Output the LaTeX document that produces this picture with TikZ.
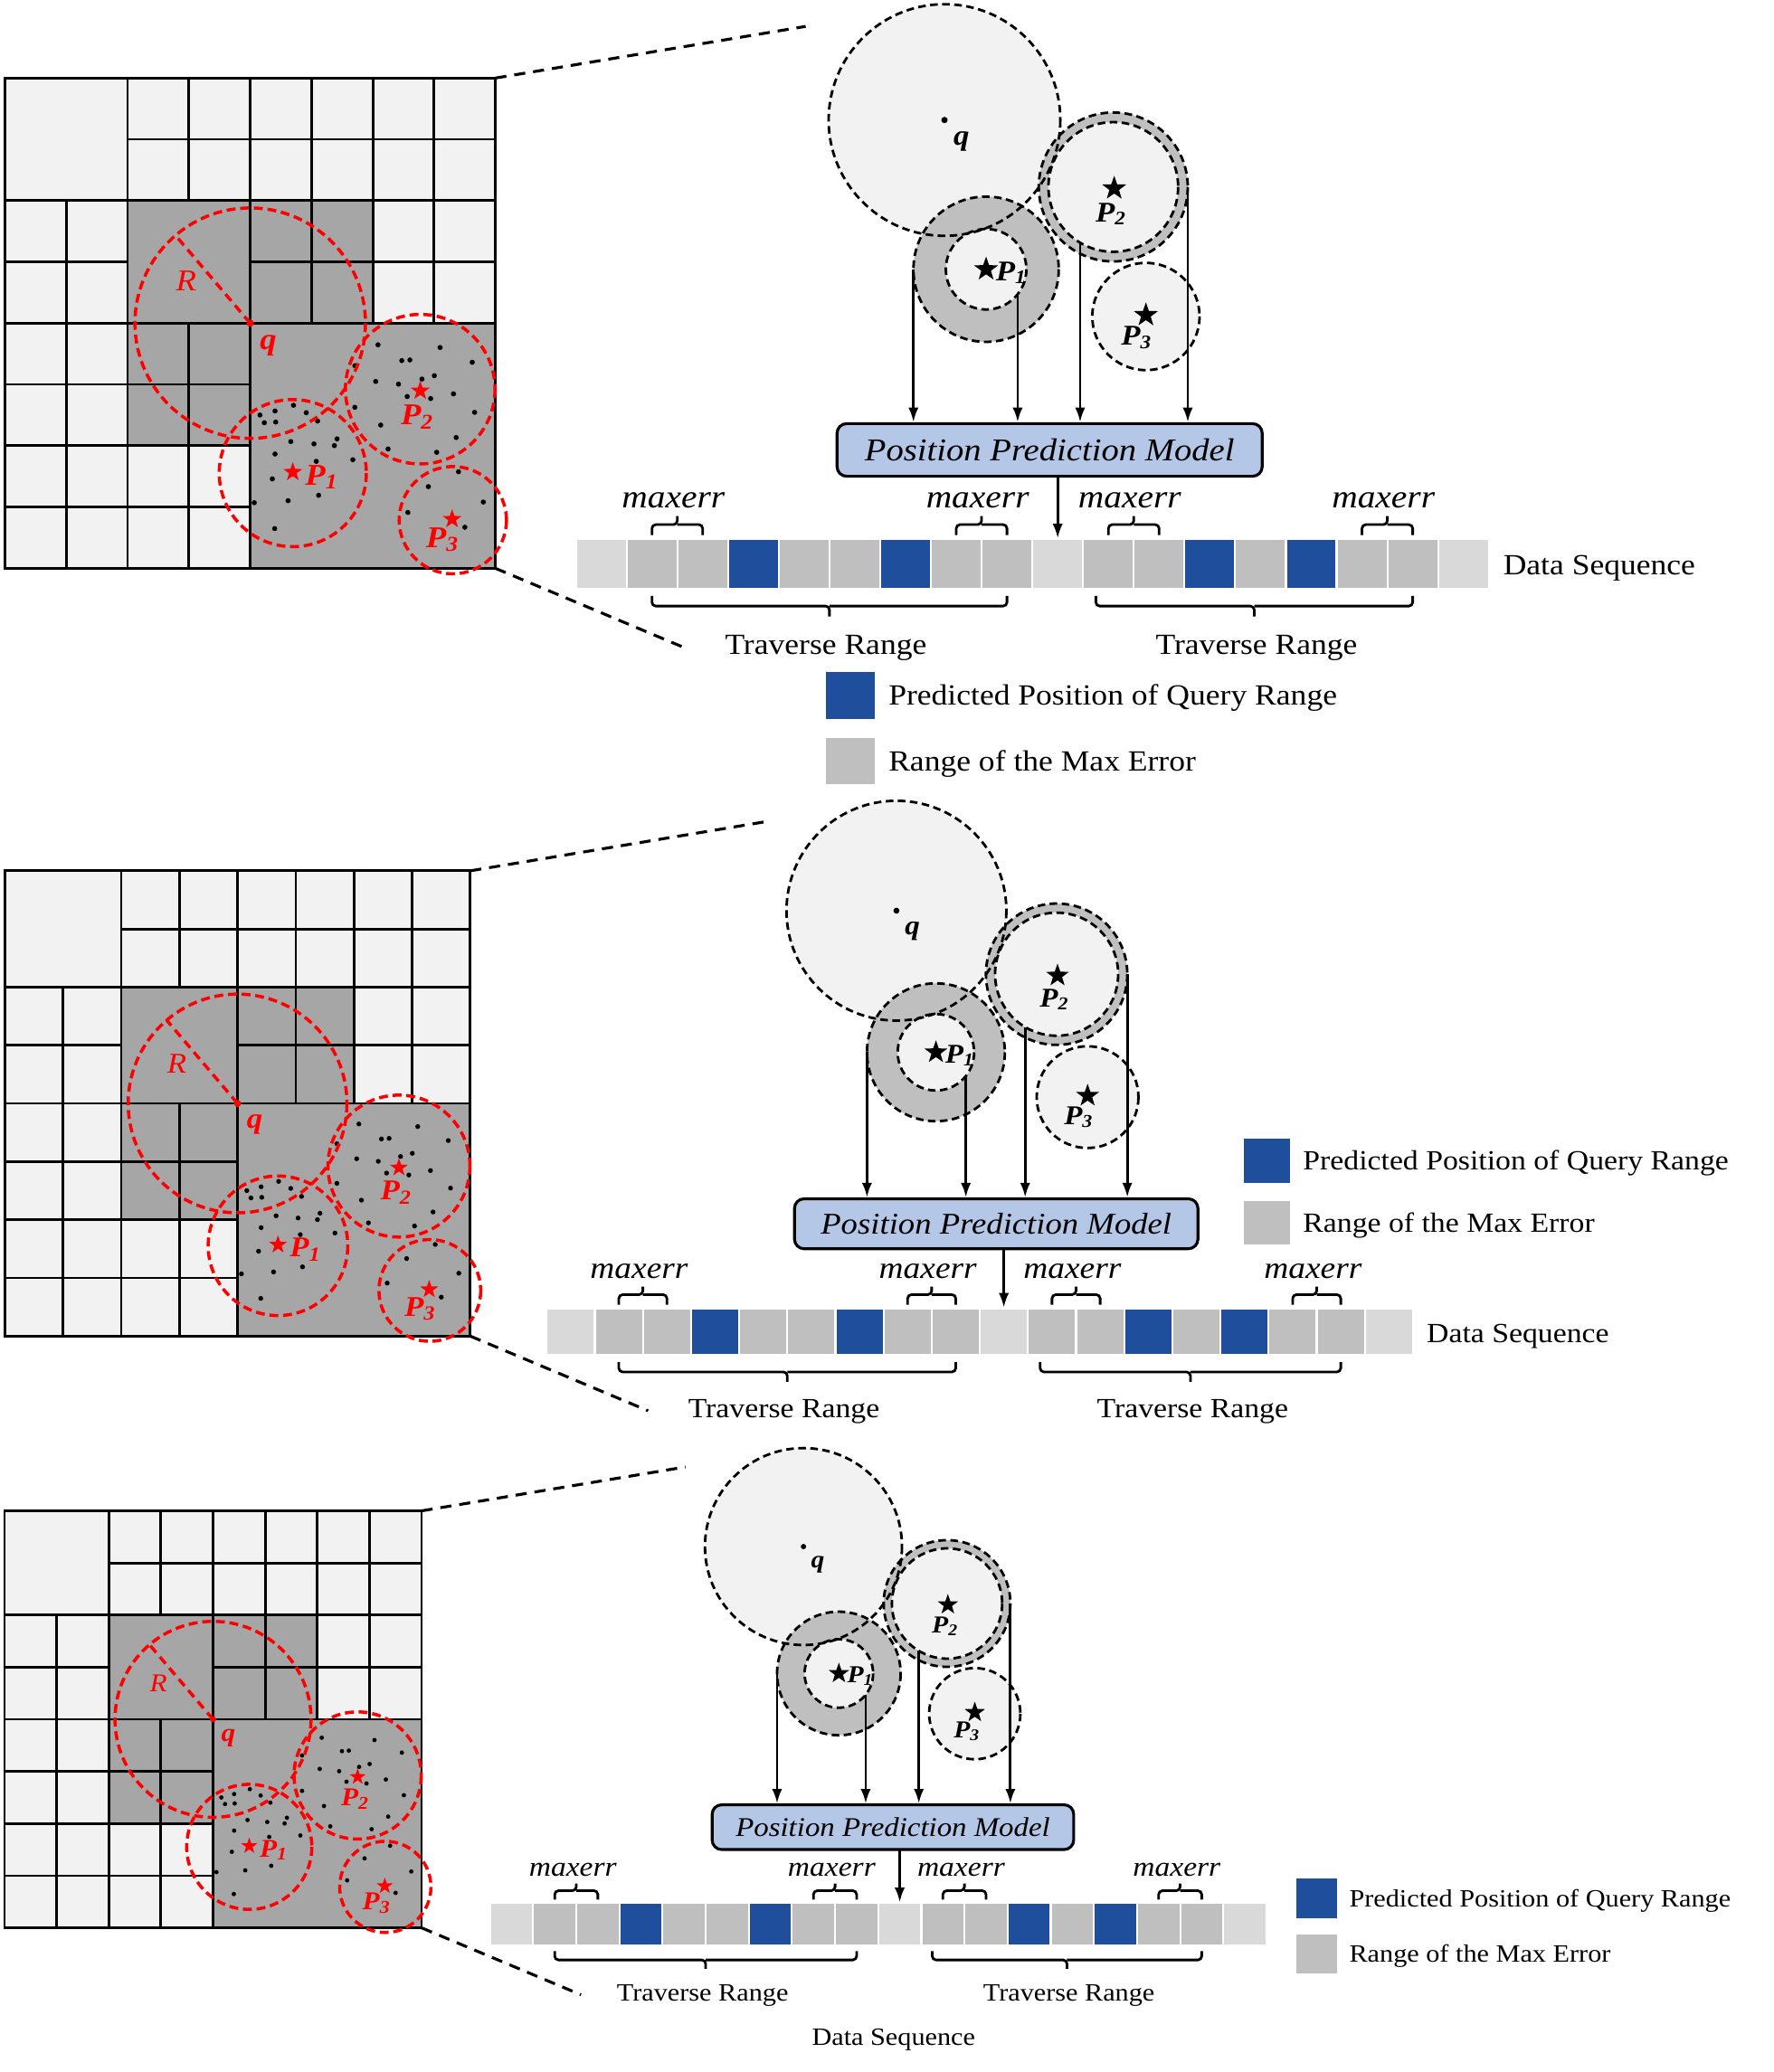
\documentclass[tikz,border=0pt]{standalone}
\usepackage{fontspec}
\setmainfont{Liberation Serif}[FakeStretch=1.1]
\usetikzlibrary{shapes.geometric,arrows.meta}
\definecolor{gridlt}{HTML}{F2F2F2}
\definecolor{griddk}{HTML}{A6A6A6}
\definecolor{seqlt}{HTML}{D9D9D9}
\definecolor{seqgr}{HTML}{BFBFBF}
\definecolor{seqbl}{HTML}{1F4E9C}
\definecolor{boxblue}{HTML}{B4C7E7}
\definecolor{ringgr}{HTML}{BFBFBF}
\tikzset{
  gline/.style={line width=0.8pt, draw=black},
  redc/.style={draw=red, line width=1pt, dash pattern=on 2.8pt off 1.5pt},
  bdash/.style={draw=black, line width=0.8pt, dash pattern=on 2.4pt off 1.4pt},
  arr/.style={-{Latex[length=4.6pt,width=3.2pt]}, line width=0.8pt},
  pbox/.style={draw=black, line width=0.9pt, fill=boxblue, rounded corners=3pt, minimum width=4.70cm, minimum height=0.582cm, inner sep=0pt, font=\fontsize{10}{12}\selectfont\itshape},
  seqcell/.style={draw=white, line width=0.6pt, minimum width=0.5606cm, minimum height=0.5446cm, inner sep=0pt},
  lbl/.style={font=\fontsize{9.2}{11}\selectfont, inner sep=0pt},
  mx/.style={font=\fontsize{10.2}{12}\selectfont\itshape, inner sep=0pt},
  brc/.style={line width=0.8pt, rounded corners=1.2pt},
  zoomline/.style={line width=0.9pt, dash pattern=on 3.5pt off 2.5pt},
  bstar/.style={star, star points=5, star point ratio=2.5, fill=black, inner sep=0pt, minimum size=0.28cm},
  rstar/.style={bstar, fill=red, minimum size=0.22cm},
  clab/.style={font=\fontsize{9}{10}\selectfont\bfseries\itshape, inner sep=0pt},
  rlab/.style={font=\fontsize{9.5}{10}\selectfont\bfseries\itshape, text=red, inner sep=0pt},
  rR/.style={font=\fontsize{9.5}{10}\selectfont\itshape, text=red, inner sep=0pt},
  lgbox/.style={minimum width=0.537cm, minimum height=0.512cm, inner sep=0pt, anchor=north west},
  panel/.style={every node/.append style={transform shape}},
}
\newcommand{\Psub}[1]{\textit{P}\textsubscript{#1}}
\newcommand{\panelbody}[1]{%
  % ---------- grid ----------
  \begin{scope}[shift={(3.8,59.1)}, x={(46.41,0)}, y={(0,46.41)}]
    \fill[gridlt] (0,0) rectangle (8,8);
    \fill[griddk] (2,2) rectangle (6,4);
    \fill[griddk] (2,4) rectangle (4,6);
    \fill[griddk] (4,4) rectangle (8,8);
    \draw[gline] (0,0) rectangle (8,8);
    \draw[gline] (2,1) -- (8,1) (0,2) -- (8,2) (0,3) -- (2,3) (4,3) -- (8,3)
      (0,4) -- (8,4) (0,5) -- (4,5) (0,6) -- (4,6) (0,7) -- (4,7);
    \draw[gline] (1,2) -- (1,8) (2,0) -- (2,8) (3,0) -- (3,2) (3,4) -- (3,8)
      (4,0) -- (4,8) (5,0) -- (5,4) (6,0) -- (6,4) (7,0) -- (7,4);
    \foreach \px/\py in {6.085/4.353,7.097/4.397,6.473/4.611,6.605/4.600,7.622/4.638,5.707/4.693,
      6.047/4.951,6.419/4.995,6.802/4.912,7.004/4.857,6.561/5.197,6.944/5.230,7.316/5.154,
      7.661/5.455,5.707/5.373,6.129/5.663,7.360/5.866,6.249/6.053,7.042/6.107,
      4.159/5.499,4.405/5.433,4.706/5.340,4.914/5.461,4.230/5.625,4.416/5.614,5.100/5.598,
      5.417/5.888,5.373/5.998,4.662/5.932,5.040/5.970,4.405/6.135,5.078/6.255,5.674/6.228,
      4.361/6.541,5.116/6.809,4.618/6.897,4.066/6.930,4.399/7.352,
      7.398/6.425,6.906/6.667,7.803/6.919,6.572/7.089,7.502/7.330}
      {\fill[black] (\px,\py) circle (0.042);}
    \draw[redc] (4,4) circle (1.88);
    \draw[redc] (4.695,6.447) circle (1.2);
    \draw[redc] (6.774,5.077) circle (1.22);
    \draw[redc] (7.305,7.215) circle (0.875);
    \coordinate (#1-gq) at (4,4);
    \coordinate (#1-gr) at (2.78,2.566);
    \draw[red, line width=1pt, dash pattern=on 2.8pt off 1.8pt] (#1-gq) -- (#1-gr);
    \fill[red] (#1-gq) circle (0.06);
    \node[rR] (#1-gRl) at (2.955,3.311) {R};
    \node[rlab] (#1-gql) at (4.296,4.364) {q};
    \node[rstar] (#1-gs1) at (4.695,6.43) {};
    \node[rlab] (#1-gp1) at (5.17,6.51) {\Psub{1}};
    \node[rstar] (#1-gs2) at (6.774,5.104) {};
    \node[rlab] (#1-gp2) at (6.73,5.53) {\Psub{2}};
    \node[rstar] (#1-gs3) at (7.294,7.198) {};
    \node[rlab] (#1-gp3) at (7.141,7.53) {\Psub{3}};
  \end{scope}
  % ---------- zoom lines ----------
  \coordinate (#1-gtr) at (375.1,59.1);
  \coordinate (#1-gbr) at (375.1,430.4);
  \coordinate (#1-zt) at (610,20);
  \coordinate (#1-zb) at (517,490);
  \draw[zoomline] (#1-gtr) -- (#1-zt);
  \draw[zoomline] (#1-gbr) -- (#1-zb);
  % ---------- circles ----------
  \coordinate (#1-q) at (715.1,90.9);
  \coordinate (#1-p1) at (746.6,203.9);
  \coordinate (#1-p2) at (842.9,141.6);
  \coordinate (#1-p3) at (867.6,239.7);
  \fill[gridlt] (#1-q) circle (87.7);
  \fill[ringgr] (#1-p1) circle (55);
  \fill[gridlt] (#1-p1) circle (30.5);
  \fill[ringgr] (#1-p2) circle (56.4);
  \fill[gridlt] (#1-p2) circle (49.1);
  \fill[gridlt] (#1-p3) circle (40.6);
  \draw[bdash] (#1-q) circle (87.7);
  \draw[bdash] (#1-p1) circle (55);
  \draw[bdash] (#1-p1) circle (30.5);
  \draw[bdash] (#1-p2) circle (56.4);
  \draw[bdash] (#1-p2) circle (49.1);
  \draw[bdash] (#1-p3) circle (40.6);
  \fill[black] (#1-q) circle (2.4);
  \node[clab] (#1-ql) at (727.9,107.3) {q};
  \node[bstar] (#1-s1) at (746.6,203.9) {};
  \node[clab, anchor=west] (#1-p1l) at (753.6,206.5) {\Psub{1}};
  \node[bstar] (#1-s2) at (843.6,142.7) {};
  \node[clab] (#1-p2l) at (841.3,162) {\Psub{2}};
  \node[bstar] (#1-s3) at (867.6,238.6) {};
  \node[clab] (#1-p3l) at (860.7,255.5) {\Psub{3}};
  % ---------- model box and arrows ----------
  \node[pbox] (#1-box) at (794.7,340.75) {Position Prediction Model};
  \coordinate (#1-a1) at (691.6,203.9);
  \coordinate (#1-a2) at (770.5,222.8);
  \coordinate (#1-a3) at (817.8,183.8);
  \coordinate (#1-a4) at (899.3,141.6);
  \foreach \k in {1,2,3,4}{\draw[arr] (#1-a\k) -- (#1-a\k |- #1-box.north);}
  % ---------- data sequence ----------
  \foreach \col [count=\i from 0] in {seqlt,seqgr,seqgr,seqbl,seqgr,seqgr,seqbl,seqgr,seqgr,seqlt,seqgr,seqgr,seqbl,seqgr,seqbl,seqgr,seqgr,seqlt}
    {\node[seqcell, fill=\col] (#1-c\i) at ({436+38.4*(\i+0.5)},427.05) {};}
  \draw[arr] (#1-c9.north |- #1-box.south) -- (#1-c9.north);
  % maxerr braces
  \foreach \ba/\bb in {493.6/532.0,724.0/762.4,839.2/877.6,1031.2/1069.6}{
    \draw[brc] (\ba,405.3) |- ({(\ba+\bb)/2},397.3) -- ({(\ba+\bb)/2},390.9);
    \draw[brc] (\bb,405.3) |- ({(\ba+\bb)/2},397.3);
    \node[mx, anchor=base] at ({(\ba+\bb)/2-3},384.5) {maxerr};
  }
  % traverse braces
  \foreach \ba/\bb in {493.6/762.4,829.7/1069.6}{
    \draw[brc] (\ba,451.2) |- ({(\ba+\bb)/2},459) -- ({(\ba+\bb)/2},466.8);
    \draw[brc] (\bb,451.2) |- ({(\ba+\bb)/2},459);
  }
  \node[lbl, anchor=base] (#1-tr1) at (625.3,495.5) {Traverse Range};
  \node[lbl, anchor=base] (#1-tr2) at (951.4,495.5) {Traverse Range};
}
\newcommand{\legendat}[3]{%
  \node[lgbox, fill=seqbl] (#1-lb1) at (#2,#3) {};
  \node[lbl, anchor=base west] (#1-lt1) at ({#2+47.3},{#3+25.5}) {Predicted Position of Query Range};
  \node[lgbox, fill=seqgr] (#1-lb2) at (#2,{#3+49.5}) {};
  \node[lbl, anchor=base west] (#1-lt2) at ({#2+47.3},{#3+75}) {Range of the Max Error};
}
\begin{document}
\begin{tikzpicture}[x=0.0146cm, y=-0.0146cm]
  \useasboundingbox (0,0) rectangle (1343.15,1569.18);
  \fill[white] (0,0) rectangle (1343.15,1569.18);
  \begin{scope}[panel]
    \panelbody{A}
    \legendat{A}{625}{508.7}
    \node[lbl, anchor=base west] (A-ds) at (1137.7,435.5) {Data Sequence};
  \end{scope}
  \begin{scope}[shift={(0.094,603.41)}, scale=0.949, panel]
    \panelbody{B}
    \legendat{B}{991.7}{272.4}
    \node[lbl, anchor=base west] (B-ds) at (1137.7,435.5) {Data Sequence};
  \end{scope}
  \begin{scope}[shift={(0.168,1093.94)}, scale=0.8505, panel]
    \panelbody{C}
    \legendat{C}{1153.2}{386.2}
    \node[lbl, anchor=base] (C-ds) at (795.3,535.2) {Data Sequence};
  \end{scope}
\end{tikzpicture}
\end{document}
